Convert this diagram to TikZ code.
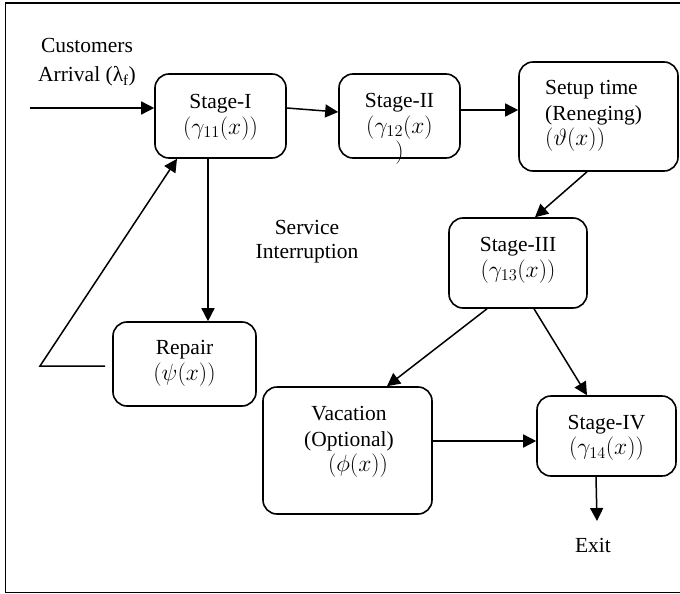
\RequirePackage{fix-cm}
\documentclass[tikz,border=0pt]{standalone}
\usepackage{fontspec}
\setmainfont{Liberation Serif}
\usetikzlibrary{arrows.meta,calc}
\newcommand{\mymth}[1]{{\fontsize{23.5}{25.5}\selectfont$#1$}}
\begin{document}
\begin{tikzpicture}[x=1pt,y=-1pt,
  box/.style={draw,line width=1.6pt,rounded corners=14pt,inner sep=0pt},
  lbl/.style={font=\fontsize{21.5}{25.5}\selectfont,align=center,inner sep=0pt},
  arr/.style={line width=1.5pt,-{Triangle[length=13pt,width=13pt]}},
  ln/.style={line width=1.5pt}]
\useasboundingbox (0,0) rectangle (680,594);
\draw[line width=1.8pt] (680,3) -- (5.5,3) -- (5.5,592.5) -- (680,592.5);

% boxes
\node[box,minimum width=131pt,minimum height=84pt] (s1) at (220.5,116) {};
\node[box,minimum width=121pt,minimum height=84pt] (s2) at (399.5,116) {};
\node[box,minimum width=159pt,minimum height=109pt] (su) at (598.5,116.5) {};
\node[box,minimum width=138pt,minimum height=90pt] (s3) at (518,263) {};
\node[box,minimum width=169pt,minimum height=127pt] (va) at (347.5,450.5) {};
\node[box,minimum width=139pt,minimum height=80pt] (s4) at (606.5,436) {};
\node[box,minimum width=143pt,minimum height=84pt] (rp) at (184.5,364) {};

% texts
\node[lbl] (t1) at (220.5,117.5) {Stage-I\\\mymth{(\gamma_{11}(x))}};
\node[lbl] (t2) at (399.5,129) {Stage-II\\\mymth{(\gamma_{12}(x)}\\\mymth{)}};
\node[lbl,align=left,anchor=west] (t3) at (545,116) {Setup time\\(Reneging)\\\mymth{(\vartheta(x))}};
\node[lbl] (t4) at (518,260.5) {Stage-III\\\mymth{(\gamma_{13}(x))}};
\node[lbl] (t5) at (349,442) {Vacation\\(Optional)\\\hspace*{18pt}\mymth{(\phi(x))}};
\node[lbl] (t6) at (606.5,438) {Stage-IV\\\mymth{(\gamma_{14}(x))}};
\node[lbl] (t7) at (184.5,363.5) {Repair\\\mymth{(\psi(x))}};
\node[lbl,font=\fontsize{21.5}{29}\selectfont] (cust) at (87,62.5) {Customers\\Arrival (λ\textsubscript{f})};
\node[lbl,font=\fontsize{21.5}{24}\selectfont] (si) at (307,242) {Service\\Interruption};
\node[lbl] (ex) at (593,545) {Exit};

% connectors
\coordinate (arrin) at (30,108);
\coordinate (bend) at (40,366);
\coordinate (exend) at (597,521);
\draw[arr] (arrin) -- (arrin -| s1.west);
\draw[arr] ([yshift=8pt]s1.east) -- ([yshift=4pt]s2.west);
\draw[arr] ([yshift=6pt]s2.east) -- ([yshift=6.5pt]su.west);
\draw[arr] ([xshift=-11.5pt]su.south) -- ([xshift=17pt]s3.north);
\draw[arr] ([xshift=-12.5pt]s1.south) -- ([xshift=-12.5pt]s1.south |- rp.north);
\draw[arr] ([xshift=-7pt,yshift=-2pt]rp.west) -- (bend) -- ([xshift=-43.5pt]s1.south);
\draw[arr] ([xshift=-31pt]s3.south) -- ([xshift=39.5pt]va.north);
\draw[arr] ([xshift=16pt]s3.south) -- ([xshift=-19.5pt]s4.north);
\draw[arr] ([yshift=9.5pt]va.east) -- ([yshift=-5pt]s4.west);
\draw[arr] ([xshift=-10.5pt]s4.south) -- (exend);
\end{tikzpicture}
\end{document}
